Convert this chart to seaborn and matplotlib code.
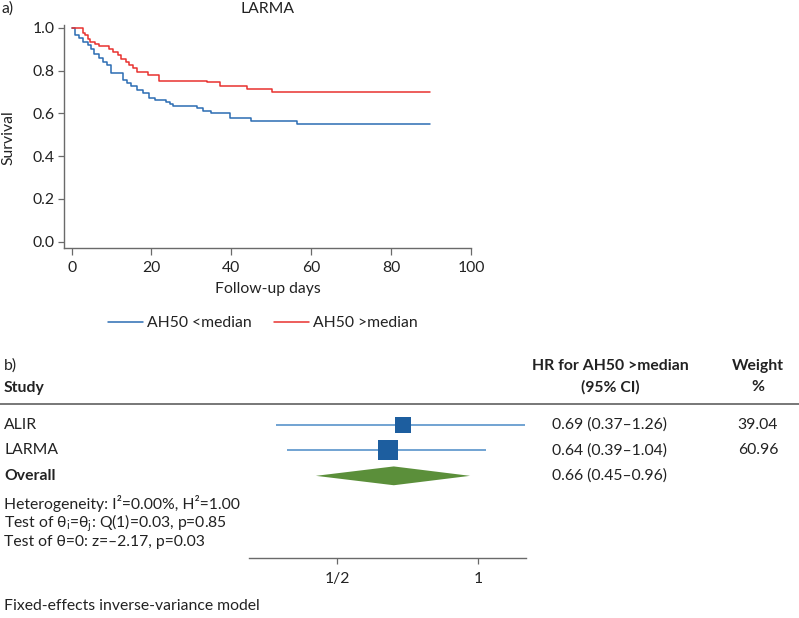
import numpy as np
import pandas as pd
import matplotlib
matplotlib.use("Agg")
import matplotlib.pyplot as plt
import matplotlib.transforms as mtransforms
from matplotlib.lines import Line2D
import seaborn as sns

# --- a) Kaplan-Meier curves, LARMA (read off the figure) ---
low_days = [0, 0.9, 1.9, 2.75, 4.0, 4.8, 5.7, 6.9, 7.9, 8.8, 9.9, 12.9, 13.8, 14.9,
            16.4, 18.0, 19.5, 21.0, 23.6, 24.6, 25.3, 31.3, 33.0, 35.0, 39.6, 44.8,
            56.5, 89.7]
low_surv = [1.0, 0.966, 0.952, 0.933, 0.918, 0.902, 0.879, 0.857, 0.841, 0.824, 0.787,
            0.758, 0.743, 0.728, 0.710, 0.697, 0.672, 0.662, 0.652, 0.645, 0.636,
            0.624, 0.613, 0.600, 0.580, 0.566, 0.552, 0.552]

high_days = [0, 2.8, 3.3, 4.0, 4.6, 5.9, 6.9, 9.4, 10.3, 11.5, 12.3, 13.6, 14.3, 15.3,
             16.4, 19.1, 22.0, 34.0, 37.1, 43.8, 50.3, 89.7]
high_surv = [1.0, 0.975, 0.964, 0.949, 0.935, 0.924, 0.917, 0.902, 0.886, 0.871, 0.855,
             0.840, 0.826, 0.810, 0.792, 0.778, 0.752, 0.745, 0.727, 0.713, 0.700, 0.700]

group_names = ["AH50 <median", "AH50 >median"]
group_colors = ["#2b6cb3", "#e8312f"]

# --- b) forest plot ---
studies = ["ALIR", "LARMA"]
hr = [0.69, 0.64]
hr_lo = [0.37, 0.39]
hr_hi = [1.26, 1.04]
weights = [39.04, 60.96]
overall_hr, overall_lo, overall_hi = 0.66, 0.45, 0.96
hr_labels = ["0.69 (0.37\u20131.26)", "0.64 (0.39\u20131.04)", "0.66 (0.45\u20130.96)"]
weight_labels = ["39.04", "60.96"]
forest_ticks = [0.5, 1]
forest_ticklabels = ["1/2", "1"]

W, H = 799, 618
TXT = "#222222"
AXC = "#6a6a6a"


def fx(x):
    return x / W


def fy(y):
    return 1 - y / H


sns.set_style("ticks")
plt.rcParams["font.family"] = ["Lato", "DejaVu Sans"]
plt.rcParams["mathtext.fontset"] = "custom"
plt.rcParams["mathtext.rm"] = "Lato"
plt.rcParams["text.color"] = TXT
FS = 11.3

fig = plt.figure(figsize=(W / 100, H / 100), dpi=100)

# ---------------- panel a ----------------
ax = fig.add_axes([fx(64), fy(248), fx(471) - fx(64), fy(25) - fy(248)])

km = pd.concat([
    pd.DataFrame({"day": low_days, "surv": low_surv, "group": group_names[0]}),
    pd.DataFrame({"day": high_days, "surv": high_surv, "group": group_names[1]}),
])
sns.lineplot(data=km, x="day", y="surv", hue="group", palette=group_colors,
             drawstyle="steps-post", estimator=None, linewidth=1.1, ax=ax)

ax.set_xlim(-1.9, 100)
ax.set_ylim(-0.03, 1.013)
ax.set_xticks([0, 20, 40, 60, 80, 100])
ax.set_yticks([0, 0.2, 0.4, 0.6, 0.8, 1.0])
ax.set_yticklabels([f"{v:.1f}" for v in [0, 0.2, 0.4, 0.6, 0.8, 1.0]])
ax.tick_params(axis="x", length=6.5 * 0.72, width=0.9, color=AXC, pad=4.5,
               labelsize=FS, labelcolor=TXT)
ax.tick_params(axis="y", length=6 * 0.72, width=0.9, color=AXC, pad=2.5,
               labelsize=FS, labelcolor=TXT)
for side in ["top", "right"]:
    ax.spines[side].set_visible(False)
for side in ["left", "bottom"]:
    ax.spines[side].set_color(AXC)
    ax.spines[side].set_linewidth(1.0)
ax.set_xlabel("")
ax.set_ylabel("")

fig.text(fx(268), fy(9), "LARMA", ha="center", va="center", fontsize=FS)
fig.text(fx(2), fy(9), "a)", ha="left", va="center", fontsize=FS)
fig.text(fx(8), fy(138), "Survival", ha="center", va="center", rotation=90, fontsize=FS)
fig.text(fx(268), fy(289), "Follow-up days", ha="center", va="center", fontsize=FS)

sns.move_legend(ax, "center", bbox_to_anchor=(fx(263), fy(323)),
                bbox_transform=fig.transFigure, ncol=2, frameon=False, title=None,
                fontsize=FS, handlelength=2.2, handletextpad=0.3, columnspacing=1.4)

# ---------------- panel b ----------------
ax2 = fig.add_axes([fx(249), fy(558), fx(526) - fx(249), fy(404) - fy(558)])
ax2.set_xscale("log")
rows = np.arange(1, len(studies) + 1)

ax2.hlines(rows, hr_lo, hr_hi, color="#4a8ac6", linewidth=1.1)
ax2.scatter(hr, rows, s=np.array(weights) * 3.4, marker="s", color="#1d5e9f",
            linewidths=0, zorder=3)
orow = len(studies) + 1
dh = 0.37
ax2.fill([overall_lo, overall_hr, overall_hi, overall_hr],
         [orow, orow - dh, orow, orow + dh], color="#5b8f3a", linewidth=0)

ax2.set_xlim(0.324, 1.264)
ax2.set_ylim(6.23, 0.176)
ax2.set_xticks(forest_ticks)
ax2.set_xticklabels(forest_ticklabels)
ax2.minorticks_off()
ax2.set_yticks([])
ax2.tick_params(axis="x", length=6 * 0.72, width=0.9, color=AXC, pad=5.5,
                labelsize=FS, labelcolor=TXT)
for side in ["top", "right", "left"]:
    ax2.spines[side].set_visible(False)
ax2.spines["bottom"].set_color(AXC)
ax2.spines["bottom"].set_linewidth(1.0)

row_tr = mtransforms.blended_transform_factory(fig.transFigure, ax2.transData)
for i, name in enumerate(studies):
    fig.text(fx(4), rows[i], name, transform=row_tr, ha="left", va="center", fontsize=FS)
    fig.text(fx(758), rows[i], weight_labels[i], transform=row_tr, ha="center",
             va="center", fontsize=FS)
fig.text(fx(4), orow, "Overall", transform=row_tr, ha="left", va="center",
         fontsize=FS, fontweight="bold")
for i, lab in enumerate(hr_labels):
    fig.text(fx(610), i + 1, lab, transform=row_tr, ha="center", va="center", fontsize=FS)

fig.text(fx(4), fy(366), "b)", ha="left", va="center", fontsize=FS)
fig.text(fx(4), fy(388), "Study", ha="left", va="center", fontsize=FS, fontweight="bold")
fig.text(fx(610), fy(366), "HR for AH50 >median", ha="center", va="center",
         fontsize=FS, fontweight="bold")
fig.text(fx(610), fy(387), "(95% CI)", ha="center", va="center", fontsize=FS,
         fontweight="bold")
fig.text(fx(758), fy(366), "Weight", ha="center", va="center", fontsize=FS,
         fontweight="bold")
fig.text(fx(758), fy(387), "%", ha="center", va="center", fontsize=FS,
         fontweight="bold")
fig.add_artist(Line2D([0, 1], [fy(404), fy(404)], transform=fig.transFigure,
                      color="#777777", linewidth=1.4))

fig.text(fx(4), fy(503), "Heterogeneity: I\u00b2=0.00%, H\u00b2=1.00", ha="left",
         va="center", fontsize=FS)
fig.text(fx(4), fy(523), r"Test of θ$_\mathregular{i}$=θ$_\mathregular{j}$: Q(1)=0.03, p=0.85",
         ha="left", va="center", fontsize=FS)
fig.text(fx(4), fy(542), "Test of θ=0: z=\u20132.17, p=0.03", ha="left", va="center",
         fontsize=FS)
fig.text(fx(4), fy(606), "Fixed-effects inverse-variance model", ha="left", va="center",
         fontsize=FS)

fig.savefig("out.png", dpi=100)
